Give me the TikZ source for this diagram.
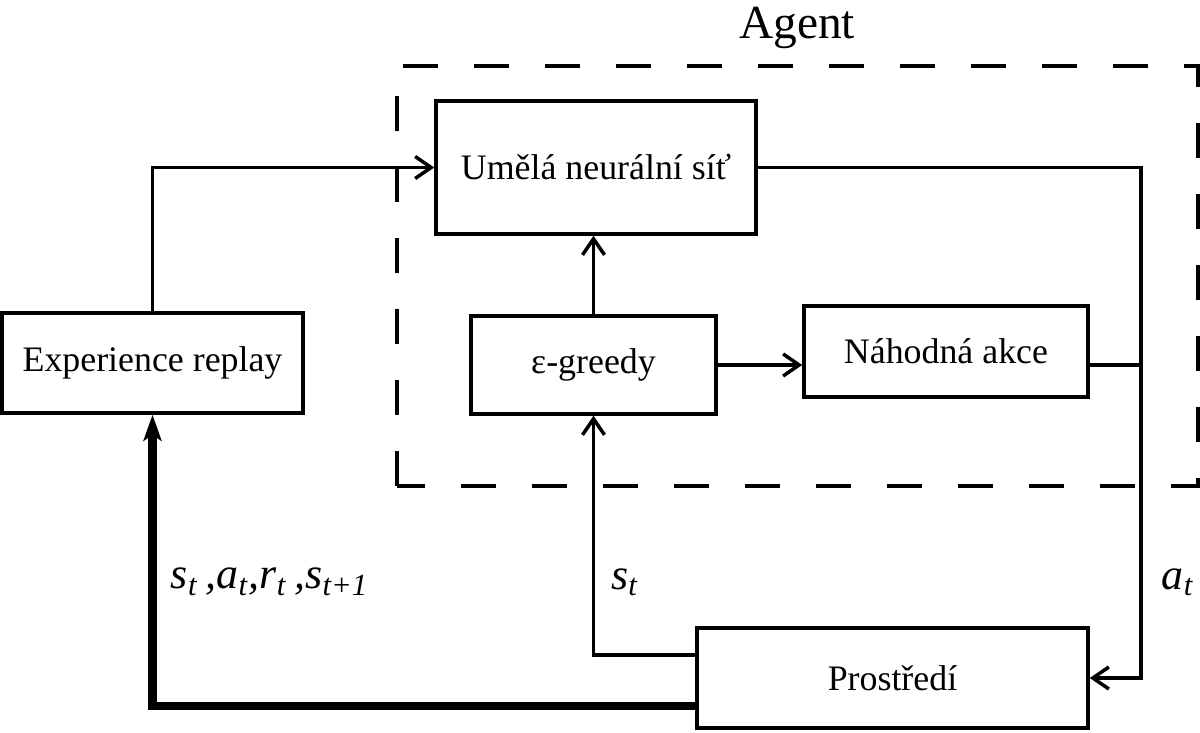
\documentclass[tikz,border=0pt]{standalone}
\usepackage{fontspec}
\setmainfont{Liberation Serif}
\newfontfamily\kurziva{Liberation Serif Italic}
\usetikzlibrary{arrows.meta}
\tikzset{
  blok/.style={draw, line width=1pt, inner sep=0pt, font=\fontsize{10.2}{12}\selectfont},
  sipka/.style={line width=1pt, -{Straight Barb[length=1.6mm,width=2.2mm]}},
  tlusta/.style={line width=2.4pt, -{Stealth[length=2.6mm,width=1.8mm,inset=0.6mm]}},
  popis/.style={font=\fontsize{12.5}{14}\kurziva}
}
\begin{document}
\begin{tikzpicture}
    \useasboundingbox (0,0) rectangle (12,7.33);

    % Agent
    \draw[line width=1.2pt, dash pattern=on 0.35cm off 0.36cm] (3.97,2.47) -- (3.97,6.67) -- (11.98,6.67) -- (11.98,2.47) -- cycle;
    \node (agent) at (7.97,7.05) {\fontsize{13.5}{16}\selectfont Agent};

    % bloky
    \node[blok, minimum width=3.20cm, minimum height=1.33cm] (nn) at (5.96,5.655) {Umělá neurální síť};
    \node[blok, minimum width=3.01cm, minimum height=1.00cm] (er) at (1.525,3.70) {Experience replay};
    \node[blok, minimum width=2.45cm, minimum height=0.98cm] (eg) at (5.935,3.68) {ε-greedy};
    \node[blok, minimum width=2.84cm, minimum height=0.91cm] (na) at (9.46,3.815) {Náhodná akce};
    \node[blok, minimum width=3.91cm, minimum height=1.00cm] (env) at (8.925,0.55) {Prostředí};
    \coordinate (spoj) at (11.41,3.68);

    % sipky
    \draw[sipka] (er.north) |- (nn.west);
    \draw[sipka] (eg.north) -- (eg.north |- nn.south);
    \draw[sipka] (eg.east) -- (eg.east -| na.west);
    \draw[line width=1pt] (na.east |- spoj) -- (spoj);
    \draw[sipka] (nn.east) -| (spoj) |- (env.east);
    \draw[sipka] ([yshift=0.23cm]env.west) -| (eg.south);
    \draw[tlusta] ([yshift=-0.28cm]env.west) -| (er.south);

    % popisky
    \node[popis] (l1) at (2.70,1.51) {s\textsubscript{t}\,,a\textsubscript{t},r\textsubscript{t}\,,s\textsubscript{t+1}};
    \node[popis] (l2) at (6.25,1.51) {s\textsubscript{t}};
    \node[popis] (l3) at (11.78,1.51) {a\textsubscript{t}};
\end{tikzpicture}
\end{document}
